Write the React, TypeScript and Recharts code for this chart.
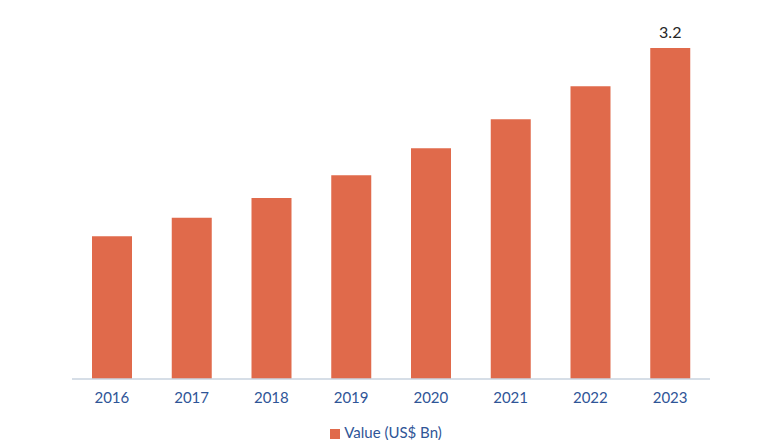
import React from "react";
import { BarChart, Bar, XAxis, YAxis, Legend, LabelList } from "recharts";

const years = ["2016", "2017", "2018", "2019", "2020", "2021", "2022", "2023"];
const values = [1.38, 1.56, 1.75, 1.97, 2.23, 2.51, 2.83, 3.2];
const labels = ["", "", "", "", "", "", "", "3.2"];

const data = years.map((y, i) => ({ year: y, value: values[i], label: labels[i] }));

const FONT = "Lato, 'Open Sans', sans-serif";
const TEXT = "#2f5597";

export default function App() {
  return (
    <div style={{ position: "absolute", left: 0, top: 0, width: 780, height: 440, background: "#fff" }}>
      <BarChart
        width={780}
        height={440}
        data={data}
        margin={{ top: 48, right: 70, left: 72, bottom: 10 }}
        barSize={40}
      >
        <XAxis
          dataKey="year"
          axisLine={{ stroke: "#c9d3df", strokeWidth: 1.5 }}
          tickLine={false}
          tick={{ fill: TEXT, fontSize: 15, fontFamily: FONT }}
          tickMargin={7}
          height={32}
        />
        <YAxis hide domain={[0, 3.2]} />
        <Legend
          verticalAlign="bottom"
          iconType="square"
          iconSize={10}
          formatter={(v) => <span style={{ color: TEXT, fontSize: 15, fontFamily: FONT }}>{v}</span>}
          wrapperStyle={{ bottom: -2 }}
        />
        <Bar dataKey="value" name="Value (US$ Bn)" fill="#e06a4b" isAnimationActive={false}>
          <LabelList dataKey="label" position="top" offset={10} style={{ fill: "#262626", fontSize: 16, fontFamily: FONT }} />
        </Bar>
      </BarChart>
    </div>
  );
}
